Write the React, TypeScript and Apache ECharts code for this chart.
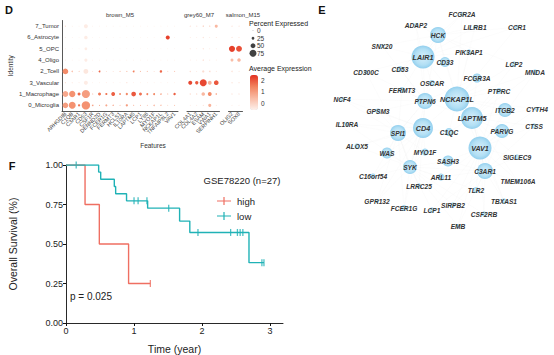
import React, { useEffect, useRef } from "react";
import * as echarts from "echarts";

// ---------- Panel D : dot plot ----------
const identities = ["0_Microglia", "1_Macrophage", "3_Vascular", "2_Tcell", "4_Oligo", "5_OPC", "6_Astrocyte", "7_Tumor"];
const brownGenes = ["ARHGDIB", "C1QB", "C3AR1", "CD53", "CSF1R", "DENND2D", "FCER1G", "FERMT3", "HCLS1", "IL10RA", "LAPTM5", "LCP1", "LY86", "MYO1F", "NCKAP1L", "TNFAIP8L2", "VAV1"];
const greyGenes = ["COL4A1", "COL4A2", "ESAM", "VWA1", "SERPINH1"];
const salmonGenes = ["OLIG2", "SOX8"];
const moduleNames = ["brown_M5", "grey60_M7", "salmon_M15"];

// rows follow `identities`; columns: brown (17), grey60 (5), salmon (2)
const pctExpressed = [
  [60, 75, 20, 92, 12, 5, 18, 8, 4, 20, 6, 5, 4, 10, 8, 3, 5, 3, 3, 5, 30, 4, 3, 3],
  [62, 68, 28, 88, 5, 28, 18, 38, 14, 20, 48, 28, 16, 16, 10, 4, 22, 5, 5, 35, 38, 12, 5, 4],
  [6, 4, 3, 40, 2, 2, 3, 2, 2, 6, 2, 2, 2, 2, 2, 2, 2, 40, 32, 75, 38, 48, 8, 6],
  [60, 12, 5, 50, 3, 14, 3, 3, 5, 6, 14, 6, 6, 3, 22, 4, 6, 8, 3, 20, 12, 4, 10, 4],
  [4, 2, 2, 30, 2, 1, 1, 2, 1, 2, 1, 1, 1, 1, 1, 1, 2, 3, 2, 10, 4, 3, 28, 34],
  [3, 1, 1, 25, 1, 1, 1, 1, 1, 1, 1, 1, 1, 1, 1, 1, 1, 5, 2, 8, 3, 3, 65, 62],
  [3, 2, 1, 35, 1, 1, 1, 1, 1, 1, 1, 1, 1, 1, 1, 40, 2, 3, 2, 8, 3, 4, 6, 4],
  [8, 3, 2, 40, 2, 1, 1, 2, 1, 2, 1, 1, 1, 1, 1, 1, 2, 6, 5, 10, 8, 28, 6, 5],
];
const avgExpression = [
  [1.0, 1.2, 1.6, 1.2, 0.9, 1.0, 0.8, 0.9, 0.5, 1.0, 0.5, 0.6, 0.4, 0.6, 0.5, 0.2, 0.4, -0.3, -0.3, -0.2, 0.6, -0.3, -0.3, -0.3],
  [0.8, 1.2, 1.8, 1.0, 0.5, 1.6, 1.6, 1.9, 1.4, 1.4, 2.0, 1.7, 1.5, 1.4, 1.2, 0.8, 1.9, 0.3, 0.3, 0.5, 1.3, 0.5, 0.0, 0.0],
  [-0.2, -0.3, -0.3, -0.5, -0.4, -0.4, -0.4, -0.4, -0.4, -0.2, -0.4, -0.4, -0.4, -0.4, -0.4, -0.4, -0.4, 2.2, 2.0, 2.2, 0.6, 2.0, -0.3, -0.3],
  [1.3, 0.3, 0.3, -0.4, -0.2, 1.8, 0.0, -0.1, 0.5, 0.4, 1.5, 0.4, 0.3, 0.0, 1.8, 0.0, 0.2, -0.2, -0.3, -0.2, -0.2, -0.3, -0.3, -0.3],
  [-0.4, -0.4, -0.4, -0.5, -0.4, -0.4, -0.4, -0.4, -0.4, -0.4, -0.4, -0.4, -0.4, -0.4, -0.4, -0.4, -0.4, -0.3, -0.3, -0.3, -0.3, -0.3, 0.4, 0.5],
  [-0.4, -0.4, -0.4, -0.5, -0.4, -0.4, -0.4, -0.4, -0.4, -0.4, -0.4, -0.4, -0.4, -0.4, -0.4, -0.4, -0.4, -0.3, -0.3, -0.3, -0.3, -0.3, 2.3, 2.1],
  [-0.4, -0.4, -0.4, -0.5, -0.4, -0.4, -0.4, -0.4, -0.4, -0.4, -0.4, -0.4, -0.4, -0.4, -0.4, 2.3, -0.4, -0.3, -0.3, -0.3, -0.3, -0.3, -0.3, -0.3],
  [-0.3, -0.4, -0.4, -0.5, -0.4, -0.4, -0.4, -0.4, -0.4, -0.4, -0.4, -0.4, -0.4, -0.4, -0.4, -0.4, -0.4, -0.2, -0.2, -0.1, -0.1, 0.5, -0.2, -0.2],
];
const sizeLegendValues = [0, 25, 50, 75];
const colorBarTicks = [0, 1, 2];
const colorRange = { min: -0.6, max: 2.5 };

// ---------- Panel E : network ----------
const nodeNames = ["FCGR2A", "ADAP2", "LILRB1", "CCR1", "HCK", "SNX20", "LAIR1", "PIK3AP1", "CD33", "CD53", "LCP2", "MNDA", "CD300C", "FCGR3A", "OSCAR", "FERMT3", "PTPRC", "NCF4", "PTPN6", "NCKAP1L", "GPSM3", "ITGB2", "CYTH4", "IL10RA", "LAPTM5", "CD4", "SPI1", "C1QC", "PARVG", "CTSS", "ALOX5", "WAS", "MYO1F", "VAV1", "SIGLEC9", "SASH3", "SYK", "C3AR1", "C16orf54", "ARL11", "TMEM106A", "LRRC25", "TLR2", "GPR132", "TBXAS1", "FCER1G", "LCP1", "SIRPB2", "CSF2RB", "EMB"];
const nodeX = [132, 86, 145, 187, 108, 52, 93, 139, 115, 70, 184, 205, 36, 147, 102, 72, 169, 12, 95, 127, 48, 175, 207, 17, 142, 93, 68, 119, 172, 204, 27, 57, 95, 150, 187, 118, 80, 155, 43, 111, 188, 89, 146, 47, 174, 74, 102, 123, 154, 128];
const nodeY = [14, 25, 27, 27, 35, 46, 57, 52, 62, 69, 64, 72, 72, 78, 83, 90, 91, 99, 101, 99, 111, 110, 109, 124, 118, 128, 133, 132, 131, 126, 146, 153, 152, 148, 157, 161, 167, 171, 176, 177, 181, 186, 190, 201, 201, 208, 210, 205, 214, 226];
const nodeDegree = [4, 4, 4, 4, 16, 4, 23, 5, 10, 6, 5, 5, 4, 9, 6, 6, 6, 4, 16, 25, 5, 14, 4, 4, 22, 20, 16, 8, 14, 5, 5, 11, 7, 23, 5, 11, 14, 16, 5, 7, 4, 5, 6, 4, 5, 6, 5, 5, 5, 4];
const hubGenes = ["NCKAP1L", "LAIR1", "VAV1", "LAPTM5", "CD4", "PTPN6", "HCK", "SPI1", "SYK", "C3AR1"];

// ---------- Panel F : Kaplan-Meier ----------
const highTimes = [0, 0.28, 0.49, 0.92, 1.24];
const highSurv = [1, 0.75, 0.5, 0.25, 0.25];
const highCensorTimes = [1.24];
const highCensorSurv = [0.25];
const lowTimes = [0, 0.48, 0.51, 0.71, 0.73, 0.89, 1.2, 1.67, 1.82, 2.69, 2.91];
const lowSurv = [1, 0.955, 0.91, 0.864, 0.818, 0.773, 0.727, 0.645, 0.573, 0.382, 0.382];
const lowCensorTimes = [0.15, 1.0, 1.06, 1.19, 1.51, 1.94, 2.42, 2.52, 2.56, 2.6, 2.88, 2.91];
const lowCensorSurv = [1, 0.773, 0.773, 0.773, 0.727, 0.573, 0.573, 0.573, 0.573, 0.573, 0.382, 0.382];
const timeTicks = [0, 1, 2, 3];

const HIGH = "#EF6F62";
const LOW = "#20B2B6";
const FONT = "Liberation Sans, Arial, sans-serif";

const dotSize = (p: number) => 0.6 + p * 0.085;

export default function App() {
  const ref = useRef<HTMLDivElement>(null);
  useEffect(() => {
    if (!ref.current) return;
    const chart = echarts.init(ref.current, undefined, { renderer: "svg" });

    const moduleGenes = [brownGenes, greyGenes, salmonGenes];
    const offsets = [0, brownGenes.length, brownGenes.length + greyGenes.length];
    const gridsD = [
      { left: 62, top: 20.5, width: 116, height: 90.5 },
      { left: 187, top: 20.5, width: 32.5, height: 90.5 },
      { left: 228.5, top: 20.5, width: 14, height: 90.5 },
    ];

    const xAxes: any[] = [];
    const yAxes: any[] = [];
    const series: any[] = [];

    moduleGenes.forEach((genes, k) => {
      xAxes.push({
        type: "category", gridIndex: k, data: genes,
        axisLine: { lineStyle: { color: "#111", width: 0.7 } },
        axisTick: { length: 2, alignWithLabel: true, lineStyle: { color: "#111", width: 0.6 } },
        axisLabel: { rotate: 45, fontSize: 5.5, margin: 2, color: "#444", interval: 0 },
        splitLine: { show: false },
      });
      yAxes.push({
        type: "category", gridIndex: k, data: identities, show: k === 0,
        axisLine: { lineStyle: { color: "#111", width: 0.7 } },
        axisTick: { length: 2, lineStyle: { color: "#111", width: 0.6 } },
        axisLabel: { fontSize: 6, color: "#333", margin: 3, interval: 0 },
        name: k === 0 ? "Identity" : "", nameLocation: "middle", nameGap: 48,
        nameTextStyle: { fontSize: 6.5, color: "#333" },
      });
      const data: number[][] = [];
      identities.forEach((_, r) => {
        genes.forEach((_, j) => {
          data.push([j, r, pctExpressed[r][offsets[k] + j], avgExpression[r][offsets[k] + j]]);
        });
      });
      series.push({
        type: "scatter", xAxisIndex: k, yAxisIndex: k, data,
        symbolSize: (v: number[]) => dotSize(v[2]),
        itemStyle: { opacity: 1 },
      });
    });

    // size legend (grid 3)
    xAxes.push({ type: "value", gridIndex: 3, min: -1, max: 1, show: false });
    yAxes.push({ type: "value", gridIndex: 3, min: -0.5, max: sizeLegendValues.length - 0.5, inverse: true, show: false });
    series.push({
      type: "scatter", xAxisIndex: 3, yAxisIndex: 3,
      data: sizeLegendValues.map((v, i) => [0, i, v]),
      symbolSize: (v: number[]) => dotSize(v[2]),
      itemStyle: { color: "#111" },
    });

    // KM (grid 4)
    xAxes.push({
      type: "value", gridIndex: 4, min: 0, max: 3.19, interval: 1,
      axisLine: { lineStyle: { color: "#111", width: 0.9 } },
      axisTick: { length: 3, customValues: timeTicks, lineStyle: { color: "#111" } },
      axisLabel: { customValues: timeTicks, fontSize: 9, color: "#222", margin: 3 },
      splitLine: { show: false },
      name: "Time (year)", nameLocation: "middle", nameGap: 20,
      nameTextStyle: { fontSize: 10.5, color: "#222" },
    });
    yAxes.push({
      type: "value", gridIndex: 4, min: 0, max: 1, interval: 0.25,
      axisLine: { show: true, lineStyle: { color: "#111", width: 0.9 } },
      axisTick: { show: true, length: 3, lineStyle: { color: "#111" } },
      axisLabel: { fontSize: 9, color: "#222", margin: 3, formatter: (v: number) => v.toFixed(2) },
      splitLine: { show: false },
      name: "Overall Survival (%)", nameLocation: "middle", nameGap: 48,
      nameTextStyle: { fontSize: 10.5, color: "#222" },
    });
    const censorSymbol = "path://M-0.5,-4H0.5V4H-0.5Z";
    series.push({
      name: "high", type: "line", xAxisIndex: 4, yAxisIndex: 4, step: "end", showSymbol: false,
      data: highTimes.map((t, i) => [t, highSurv[i]]),
      lineStyle: { color: HIGH, width: 1.4 }, itemStyle: { color: HIGH },
    });
    series.push({
      name: "low", type: "line", xAxisIndex: 4, yAxisIndex: 4, step: "end", showSymbol: false,
      data: lowTimes.map((t, i) => [t, lowSurv[i]]),
      lineStyle: { color: LOW, width: 1.4 }, itemStyle: { color: LOW },
    });
    series.push({
      name: "highCensor", type: "scatter", xAxisIndex: 4, yAxisIndex: 4, symbol: censorSymbol, symbolSize: [1.3, 7],
      data: highCensorTimes.map((t, i) => [t, highCensorSurv[i]]), itemStyle: { color: HIGH },
    });
    series.push({
      name: "lowCensor", type: "scatter", xAxisIndex: 4, yAxisIndex: 4, symbol: censorSymbol, symbolSize: [1.3, 7],
      data: lowCensorTimes.map((t, i) => [t, lowCensorSurv[i]]), itemStyle: { color: LOW },
    });

    // network (grid 5)
    xAxes.push({ type: "value", gridIndex: 5, min: 0, max: 224, show: false });
    yAxes.push({ type: "value", gridIndex: 5, min: 0, max: 240, inverse: true, show: false });
    const links: any[] = [];
    nodeNames.forEach((n, i) => {
      // connect each gene to its nearest hub genes
      const dists = hubGenes
        .filter((h) => h !== n)
        .map((h) => {
          const j = nodeNames.indexOf(h);
          return { h, d: Math.hypot(nodeX[i] - nodeX[j], nodeY[i] - nodeY[j]) };
        })
        .sort((a, b) => a.d - b.d);
      dists.slice(0, 3).forEach((o) => links.push({ source: n, target: o.h }));
    });
    series.push({
      type: "graph", coordinateSystem: "cartesian2d", xAxisIndex: 5, yAxisIndex: 5, layout: "none",
      data: nodeNames.map((n, i) => ({
        name: n, value: [nodeX[i], nodeY[i]], symbolSize: nodeDegree[i],
        label: { fontSize: nodeDegree[i] > 18 ? 7.2 : 6.6 },
      })),
      links,
      lineStyle: { color: "#d8d8d8", width: 0.4, opacity: 0.18, curveness: 0 },
      itemStyle: {
        color: {
          type: "radial", x: 0.5, y: 0.5, r: 0.5,
          colorStops: [{ offset: 0, color: "#d6effb" }, { offset: 0.7, color: "#b2dff4" }, { offset: 1, color: "#92cfee" }],
        },
      },
      label: {
        show: true, position: "inside", fontWeight: "bold", fontStyle: "italic", color: "#333", fontFamily: FONT,
      },
      emphasis: { disabled: true },
    });

    const tickY = (v: number) => 110 - ((v - colorRange.min) / (colorRange.max - colorRange.min)) * 35;

    const baseGraphics: any[] = [
      { type: "text", x: 9, y: 10, style: { text: "D", fontSize: 11, fontWeight: "bold", fill: "#111", align: "center", verticalAlign: "middle", fontFamily: FONT } },
      { type: "text", x: 322, y: 10, style: { text: "E", fontSize: 11, fontWeight: "bold", fill: "#111", align: "center", verticalAlign: "middle", fontFamily: FONT } },
      { type: "text", x: 12, y: 166, style: { text: "F", fontSize: 11, fontWeight: "bold", fill: "#111", align: "center", verticalAlign: "middle", fontFamily: FONT } },
      { type: "text", x: 120, y: 15, style: { text: moduleNames[0], fontSize: 6, fill: "#333", align: "center", verticalAlign: "middle", fontFamily: FONT } },
      { type: "text", x: 199, y: 15, style: { text: moduleNames[1], fontSize: 6, fill: "#333", align: "center", verticalAlign: "middle", fontFamily: FONT } },
      { type: "text", x: 243, y: 15, style: { text: moduleNames[2], fontSize: 6, fill: "#333", align: "center", verticalAlign: "middle", fontFamily: FONT } },
      { type: "text", x: 153, y: 145, style: { text: "Features", fontSize: 6.5, fill: "#333", align: "center", verticalAlign: "middle", fontFamily: FONT } },
      { type: "text", x: 249, y: 23, style: { text: "Percent Expressed", fontSize: 7, fill: "#222", align: "left", verticalAlign: "middle", fontFamily: FONT } },
      { type: "text", x: 249, y: 68, style: { text: "Average Expression", fontSize: 7, fill: "#222", align: "left", verticalAlign: "middle", fontFamily: FONT } },
      ...colorBarTicks.map((v) => ({
        type: "text", x: 261, y: tickY(v), style: { text: String(v), fontSize: 6.5, fill: "#333", align: "left", verticalAlign: "middle", fontFamily: FONT },
      })),
      { type: "text", x: 242, y: 180, style: { text: "GSE78220 (n=27)", fontSize: 9.5, fill: "#222", align: "center", verticalAlign: "middle", fontFamily: FONT } },
      { type: "text", x: 70, y: 296, style: { text: "p = 0.025", fontSize: 10, fill: "#222", align: "left", verticalAlign: "middle", fontFamily: FONT } },
    ];

    chart.setOption({
      animation: false,
      textStyle: { fontFamily: FONT },
      grid: [
        ...gridsD,
        { left: 251, top: 27, width: 4, height: 30 },
        { left: 66, top: 165, width: 217, height: 162.3 },
        { left: 330, top: 0, width: 224, height: 240 },
      ],
      xAxis: xAxes,
      yAxis: yAxes,
      visualMap: {
        type: "continuous", min: colorRange.min, max: colorRange.max, dimension: 3, seriesIndex: [0, 1, 2],
        inRange: { color: ["#fdf1ec", "#f9bca6", "#f2835f", "#e3301f"] },
        left: 250, top: 75, itemWidth: 8, itemHeight: 35, calculable: false, hoverLink: false, padding: 0,
        text: ["", ""], textGap: 0,
      },
      legend: {
        data: ["high", "low"], orient: "vertical", left: 212, top: 191, itemWidth: 14, itemHeight: 8, itemGap: 5,
        icon: "path://M0,4.4H14V5.6H0Z M6.4,1H7.6V9H6.4Z",
        textStyle: { fontSize: 9.5, color: "#222", padding: [0, 0, 0, 1] }, selectedMode: false,
      },
      graphic: baseGraphics,
      series,
    });

    // size-legend labels positioned through the legend grid's own scale
    const sizeLabels = sizeLegendValues.map((v, i) => {
      const p = chart.convertToPixel({ gridIndex: 3 }, [0, i]) as number[];
      return {
        type: "text", x: p[0] + 4, y: p[1],
        style: { text: String(v), fontSize: 6.5, fill: "#333", align: "left", verticalAlign: "middle", fontFamily: FONT },
      };
    });
    chart.setOption({ graphic: [...baseGraphics, ...sizeLabels] });

    return () => chart.dispose();
  }, []);

  return (
    <div style={{ position: "absolute", left: 0, top: 0, width: 554, height: 355, background: "#fff" }}>
      <div ref={ref} style={{ width: 554, height: 355 }} />
    </div>
  );
}
